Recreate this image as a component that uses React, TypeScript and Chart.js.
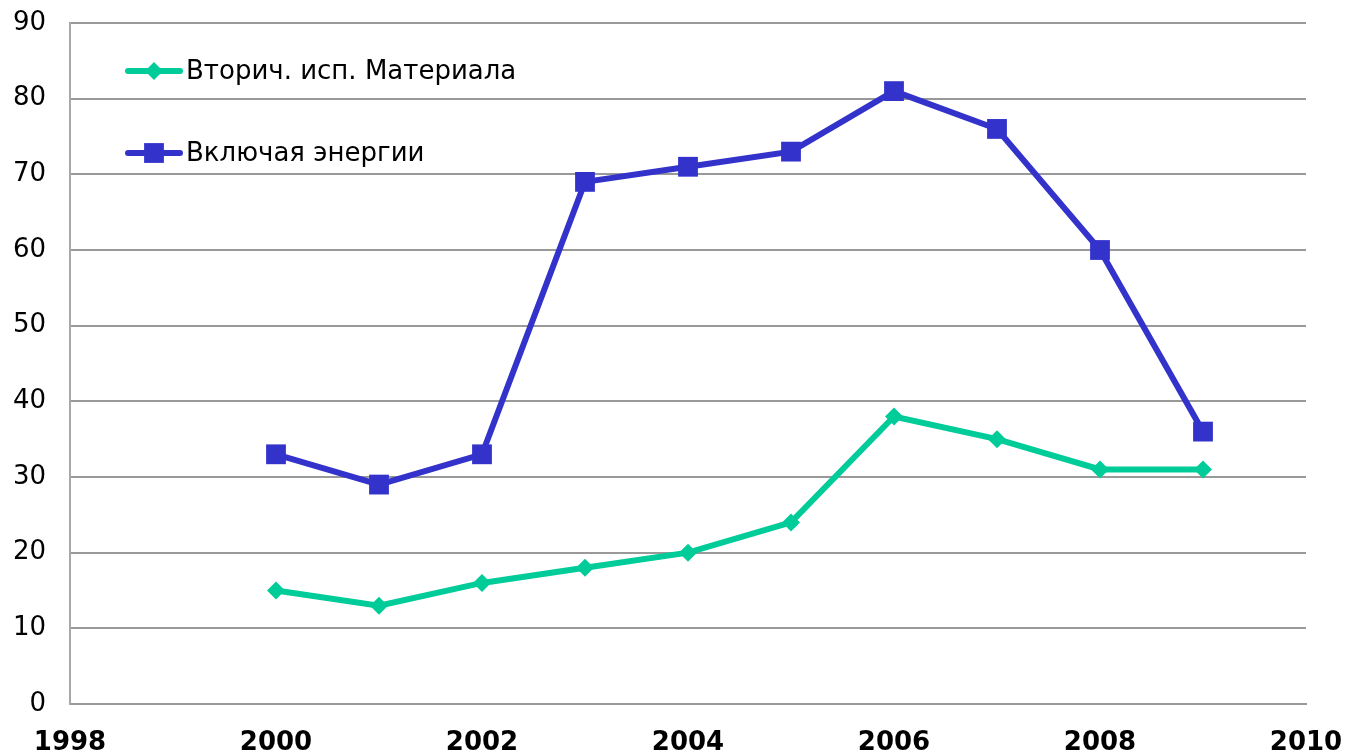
import React, { useEffect, useRef } from "react";
import { Chart, registerables } from "chart.js";

Chart.register(...registerables);

const years = [2000, 2001, 2002, 2003, 2004, 2005, 2006, 2007, 2008, 2009];
const materialValues = [15, 13, 16, 18, 20, 24, 38, 35, 31, 31];
const energyValues = [33, 29, 33, 69, 71, 73, 81, 76, 60, 36];
const seriesLabels = ["Вторич. исп. Материала", "Включая энергии"];

const GREEN = "rgb(0,204,153)";
const BLUE = "rgb(51,51,204)";
const FONT = "'DejaVu Sans', Verdana, sans-serif";

const legendPlugin = {
  id: "insideLegend",
  afterDatasetsDraw(chart: any) {
    const ctx = chart.ctx;
    const items = [
      { label: seriesLabels[0], color: GREEN, style: "rectRot", r: 9, y: 71 },
      { label: seriesLabels[1], color: BLUE, style: "rect", r: 14, y: 153 },
    ];
    ctx.save();
    items.forEach((it) => {
      ctx.strokeStyle = it.color;
      ctx.lineWidth = 6;
      ctx.lineCap = "round";
      ctx.beginPath();
      ctx.moveTo(128, it.y);
      ctx.lineTo(180, it.y);
      ctx.stroke();
      ctx.fillStyle = it.color;
      if (it.style === "rect") {
        const s = it.r * Math.SQRT1_2;
        ctx.fillRect(154 - s, it.y - s, 2 * s, 2 * s);
      } else {
        ctx.beginPath();
        ctx.moveTo(154, it.y - it.r);
        ctx.lineTo(154 + it.r, it.y);
        ctx.lineTo(154, it.y + it.r);
        ctx.lineTo(154 - it.r, it.y);
        ctx.closePath();
        ctx.fill();
      }
      ctx.fillStyle = "#000";
      ctx.font = `26px ${FONT}`;
      ctx.textBaseline = "middle";
      ctx.textAlign = "left";
      ctx.fillText(it.label, 186, it.y + 1);
    });
    ctx.restore();
  },
};

export default function App() {
  const ref = useRef<HTMLCanvasElement>(null);
  useEffect(() => {
    if (!ref.current) return;
    const chart = new Chart(ref.current, {
      type: "line",
      data: {
        datasets: [
          {
            label: seriesLabels[0],
            data: years.map((y, i) => ({ x: y, y: materialValues[i] })),
            borderColor: GREEN,
            backgroundColor: GREEN,
            borderWidth: 6,
            pointStyle: "rectRot",
            pointRadius: 9,
            pointBorderWidth: 0,
            tension: 0,
          },
          {
            label: seriesLabels[1],
            data: years.map((y, i) => ({ x: y, y: energyValues[i] })),
            borderColor: BLUE,
            backgroundColor: BLUE,
            borderWidth: 6,
            pointStyle: "rect",
            pointRadius: 14,
            pointBorderWidth: 0,
            tension: 0,
          },
        ],
      },
      options: {
        animation: false,
        responsive: false,
        maintainAspectRatio: false,
        layout: { padding: { top: 23, right: 40, left: 0, bottom: 0 } },
        plugins: { legend: { display: false }, tooltip: { enabled: false } },
        scales: {
          x: {
            type: "linear",
            min: 1998,
            max: 2010,
            ticks: {
              stepSize: 2,
              color: "#000",
              font: { family: FONT, size: 26, weight: "bold" },
              padding: 24,
              maxRotation: 0,
              callback: (v: any) => String(v),
            },
            grid: { display: false, drawTicks: false },
            border: { display: true, color: "#999", width: 2 },
            afterFit: (s: any) => {
              s.height = 49;
              s.paddingLeft = 0;
              s.paddingRight = 0;
            },
          },
          y: {
            min: 0,
            max: 90,
            ticks: {
              stepSize: 10,
              color: "#000",
              font: { family: FONT, size: 26 },
              padding: 24,
            },
            grid: { color: "#999", lineWidth: 2, drawTicks: false },
            border: { display: true, color: "#a8a8a8", width: 2 },
            afterFit: (s: any) => {
              s.width = 70;
              s.paddingTop = 0;
              s.paddingBottom = 0;
            },
          },
        },
      },
      plugins: [legendPlugin],
    });
    return () => chart.destroy();
  }, []);
  return (
    <div style={{ position: "fixed", left: 0, top: 0, width: 1346, height: 753, background: "#fff" }}>
      <canvas ref={ref} width={1346} height={753} style={{ width: 1346, height: 753 }} />
    </div>
  );
}
